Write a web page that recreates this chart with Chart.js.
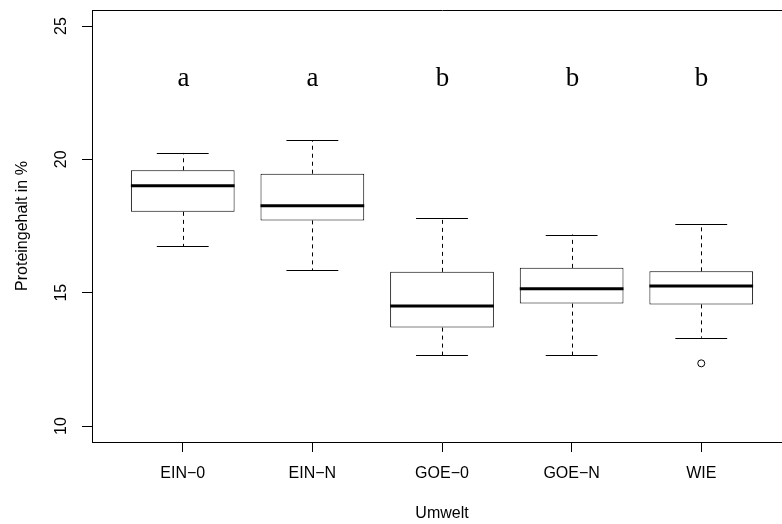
<!DOCTYPE html>
<html>
<head>
<meta charset="utf-8">
<script src="https://cdn.jsdelivr.net/npm/chart.js@4/dist/chart.umd.min.js"></script>
<style>
  html, body { margin: 0; padding: 0; background: #fff; overflow: hidden; }
  #wrap { width: 800px; height: 524px; }
</style>
</head>
<body>
<div id="wrap"><canvas id="proteinChart" width="800" height="524"></canvas></div>
<script>
// Proteingehalt je Umwelt (Boxplot-Kennwerte)
const umwelten = ['EIN\u22120', 'EIN\u2212N', 'GOE\u22120', 'GOE\u2212N', 'WIE'];
const whiskerLow = [16.74, 15.84, 12.65, 12.65, 13.31];
const quart1 = [18.03, 17.71, 13.69, 14.59, 14.56];
const medians = [19.01, 18.26, 14.50, 15.15, 15.25];
const quart3 = [19.59, 19.46, 15.78, 15.93, 15.80];
const whiskerHigh = [20.24, 20.71, 17.80, 17.18, 17.59];
const outlierX = [4];
const outlierY = [12.35];
const groupLetters = ['a', 'a', 'b', 'b', 'b'];
const letterLevel = 23;
const yTicks = [10, 15, 20, 25];

const sans = "'Liberation Sans', Arial, sans-serif";

// whiskers, medians, frame, rotated y labels, group letters
const boxExtras = {
  id: 'boxExtras',
  afterDatasetsDraw(chart) {
    const { ctx, chartArea, scales: { x, y } } = chart;
    ctx.save();
    ctx.strokeStyle = '#000';
    ctx.lineWidth = 1;
    for (let i = 0; i < umwelten.length; i++) {
      const cx = Math.round(x.getPixelForValue(i)) + 0.5;
      const capL = x.getPixelForValue(i - 0.2);
      const capR = x.getPixelForValue(i + 0.2);
      const boxL = x.getPixelForValue(i - 0.4);
      const boxR = x.getPixelForValue(i + 0.4);

      ctx.setLineDash([4, 4]);
      ctx.beginPath();
      ctx.moveTo(cx, y.getPixelForValue(quart3[i]));
      ctx.lineTo(cx, y.getPixelForValue(whiskerHigh[i]));
      ctx.moveTo(cx, y.getPixelForValue(quart1[i]));
      ctx.lineTo(cx, y.getPixelForValue(whiskerLow[i]));
      ctx.stroke();

      ctx.setLineDash([]);
      ctx.beginPath();
      const hi = Math.round(y.getPixelForValue(whiskerHigh[i])) + 0.5;
      const lo = Math.round(y.getPixelForValue(whiskerLow[i])) + 0.5;
      ctx.moveTo(capL, hi); ctx.lineTo(capR, hi);
      ctx.moveTo(capL, lo); ctx.lineTo(capR, lo);
      ctx.stroke();

      ctx.lineWidth = 3;
      ctx.beginPath();
      const med = y.getPixelForValue(medians[i]);
      ctx.moveTo(boxL, med); ctx.lineTo(boxR, med);
      ctx.stroke();
      ctx.lineWidth = 1;

      ctx.fillStyle = '#000';
      ctx.font = "27px 'Liberation Serif', 'Times New Roman', serif";
      ctx.textAlign = 'center';
      ctx.textBaseline = 'middle';
      ctx.fillText(groupLetters[i], cx, y.getPixelForValue(letterLevel));
    }

    // frame top and right
    ctx.beginPath();
    ctx.moveTo(Math.round(chartArea.left) + 0.5, Math.round(chartArea.top) + 0.5);
    ctx.lineTo(Math.round(chartArea.right) + 0.5, Math.round(chartArea.top) + 0.5);
    ctx.lineTo(Math.round(chartArea.right) + 0.5, chartArea.bottom);
    ctx.stroke();

    // y tick labels, rotated like R's las = 0
    ctx.font = '16px ' + sans;
    ctx.textAlign = 'center';
    ctx.textBaseline = 'middle';
    yTicks.forEach(v => {
      ctx.save();
      ctx.translate(62, y.getPixelForValue(v));
      ctx.rotate(-Math.PI / 2);
      ctx.fillText(String(v), 0, 0);
      ctx.restore();
    });
    ctx.restore();
  }
};

const ctx = document.getElementById('proteinChart').getContext('2d');
new Chart(ctx, {
  type: 'bar',
  data: {
    datasets: [{
      label: 'Box',
      data: umwelten.map((_, i) => ({ x: i, y: [quart1[i], quart3[i]] })),
      backgroundColor: '#fff',
      borderColor: '#000',
      borderWidth: 1,
      borderSkipped: false,
      barPercentage: 0.8,
      categoryPercentage: 1
    }, {
      type: 'scatter',
      label: 'Ausreißer',
      data: outlierX.map((v, i) => ({ x: v, y: outlierY[i] })),
      pointStyle: 'circle',
      pointRadius: 3.5,
      backgroundColor: '#fff',
      borderColor: '#000',
      borderWidth: 1
    }]
  },
  options: {
    responsive: false,
    devicePixelRatio: 1,
    animation: false,
    layout: { padding: { left: 0, right: 8, top: 10, bottom: 0 } },
    plugins: { legend: { display: false }, tooltip: { enabled: false } },
    scales: {
      x: {
        type: 'linear',
        min: -0.7,
        max: 4.7,
        offset: false,
        afterBuildTicks: s => { s.ticks = umwelten.map((_, i) => ({ value: i })); },
        afterFit: s => { s.height = 82; },
        grid: { offset: false, drawOnChartArea: false, drawTicks: true, tickLength: 10, color: '#000' },
        border: { display: true, color: '#000', width: 1 },
        ticks: {
          padding: 12,
          color: '#000',
          font: { family: sans, size: 16 },
          maxRotation: 0,
          callback: v => umwelten[v]
        },
        title: { display: true, text: 'Umwelt', color: '#000', font: { family: sans, size: 16 }, padding: { top: 0, bottom: 1 } }
      },
      y: {
        min: 9.4,
        max: 25.6,
        afterBuildTicks: s => { s.ticks = yTicks.map(v => ({ value: v })); },
        afterFit: s => { s.width = 92; },
        grid: { drawOnChartArea: false, drawTicks: true, tickLength: 10, color: '#000' },
        border: { display: true, color: '#000', width: 1 },
        ticks: { display: false },
        title: { display: true, text: 'Proteingehalt in %', color: '#000', font: { family: sans, size: 16 }, padding: { top: 13, bottom: 0 } }
      }
    }
  },
  plugins: [boxExtras]
});
</script>
</body>
</html>
